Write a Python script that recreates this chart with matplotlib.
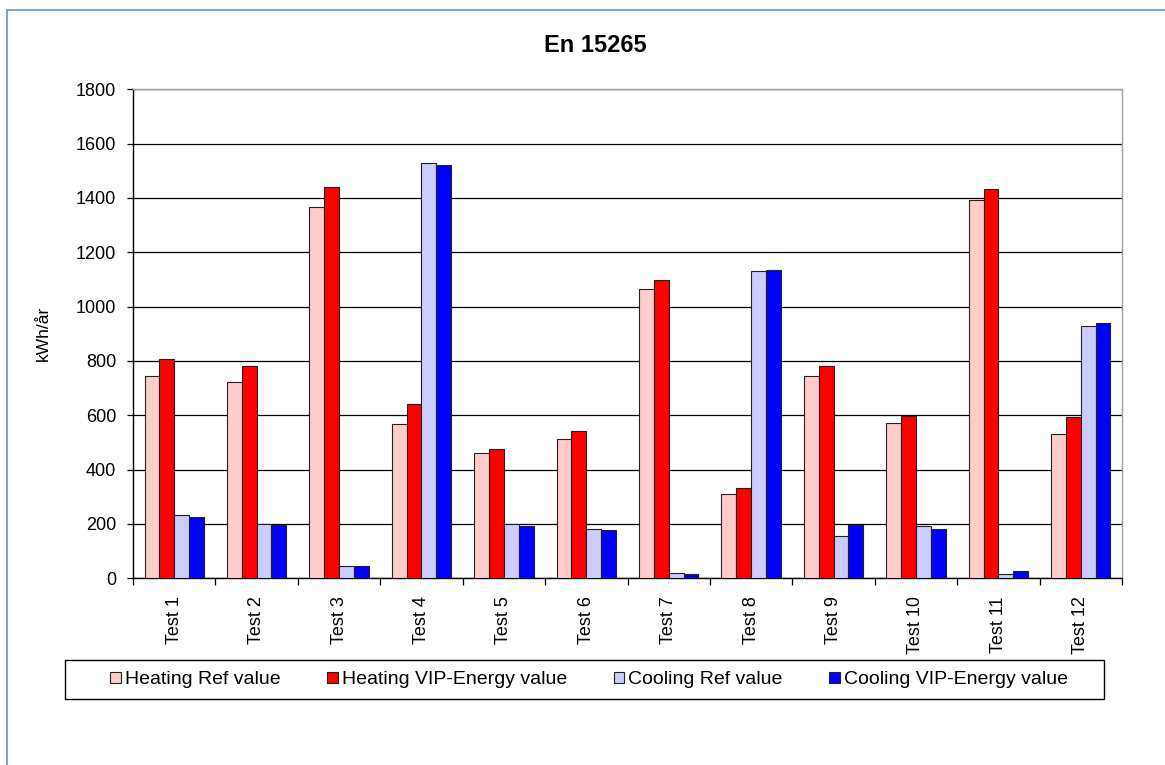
import numpy as np
import matplotlib
matplotlib.use("Agg")
from matplotlib import pyplot as plt
from matplotlib.patches import Rectangle

plt.rcParams['font.family'] = ['Liberation Sans', 'DejaVu Sans']

tests = ['Test 1', 'Test 2', 'Test 3', 'Test 4', 'Test 5', 'Test 6',
         'Test 7', 'Test 8', 'Test 9', 'Test 10', 'Test 11', 'Test 12']
heating_ref = [746, 723, 1365, 568, 461, 511, 1064, 312, 746, 573, 1391, 533]
heating_vip = [806, 781, 1441, 643, 475, 541, 1099, 334, 781, 598, 1432, 595]
cooling_ref = [232, 200, 45, 1529, 200, 183, 18, 1130, 157, 191, 14, 927]
cooling_vip = [227, 198, 44, 1521, 191, 178, 14, 1135, 198, 183, 27, 940]

series_names = ['Heating Ref value', 'Heating VIP-Energy value',
                'Cooling Ref value', 'Cooling VIP-Energy value']
series = [heating_ref, heating_vip, cooling_ref, cooling_vip]
colors = ['#FFCCCC', '#FF0000', '#CCCCFF', '#0000FF']

fig = plt.figure(figsize=(11.65, 7.65), dpi=100)

# outer chart border (blue), runs off the right and bottom edge
fig.patches.append(Rectangle((7 / 1165, -0.1), 1.2, 1 - 10 / 765 + 0.1,
                             transform=fig.transFigure, fill=False,
                             edgecolor='#6E9BD6', linewidth=1.3))

ax = fig.add_axes([133 / 1165, 1 - 578.3 / 765, 989 / 1165, 489 / 765])

x = np.arange(len(tests))
w = 0.18
for i, (name, vals, c) in enumerate(zip(series_names, series, colors)):
    ax.bar(x + (i - 1.5) * w, vals, width=w, color=c, edgecolor='#222222',
           linewidth=0.8, label=name, zorder=3)

ax.set_ylim(0, 1800)
ax.set_xlim(-0.5, len(tests) - 0.5)
ax.set_yticks(np.arange(0, 1801, 200))
ax.yaxis.grid(True, color='black', linewidth=0.9, zorder=0)
ax.set_axisbelow(True)

ax.set_xticks(x)
ax.set_xticklabels(tests, rotation=90, fontsize=13)
ax.set_xticks(np.arange(-0.5, len(tests), 1), minor=True)
ax.tick_params(axis='x', which='major', length=0, pad=13)
ax.tick_params(axis='x', which='minor', length=5, width=0.9, direction='out')
ax.tick_params(axis='y', length=4, width=0.9, pad=8, labelsize=13)

ax.spines['top'].set_color('#A0A0A0')
ax.spines['right'].set_color('#A0A0A0')
ax.spines['left'].set_color('black')
ax.spines['bottom'].set_color('black')
for s in ax.spines.values():
    s.set_linewidth(1.0)

ax.set_ylabel('kWh/år', fontsize=12.5, labelpad=18)

fig.text(595 / 1165, 1 - 45 / 765, 'En 15265', ha='center', va='center',
         fontsize=17, fontweight='bold')

# legend box drawn separately, entries centred inside it
fig.patches.append(Rectangle((65 / 1165, 1 - 699 / 765), 1039 / 1165, 39 / 765,
                             transform=fig.transFigure, fill=False,
                             edgecolor='black', linewidth=1.0))
leg = fig.legend(loc='center', ncol=4,
                 bbox_to_anchor=(589 / 1165, 1 - 680 / 765),
                 bbox_transform=fig.transFigure, fontsize=14,
                 handlelength=0.55, handleheight=0.55, handletextpad=0.2,
                 columnspacing=2.4, borderaxespad=0, frameon=False)

fig.savefig('out.png', dpi=100)
